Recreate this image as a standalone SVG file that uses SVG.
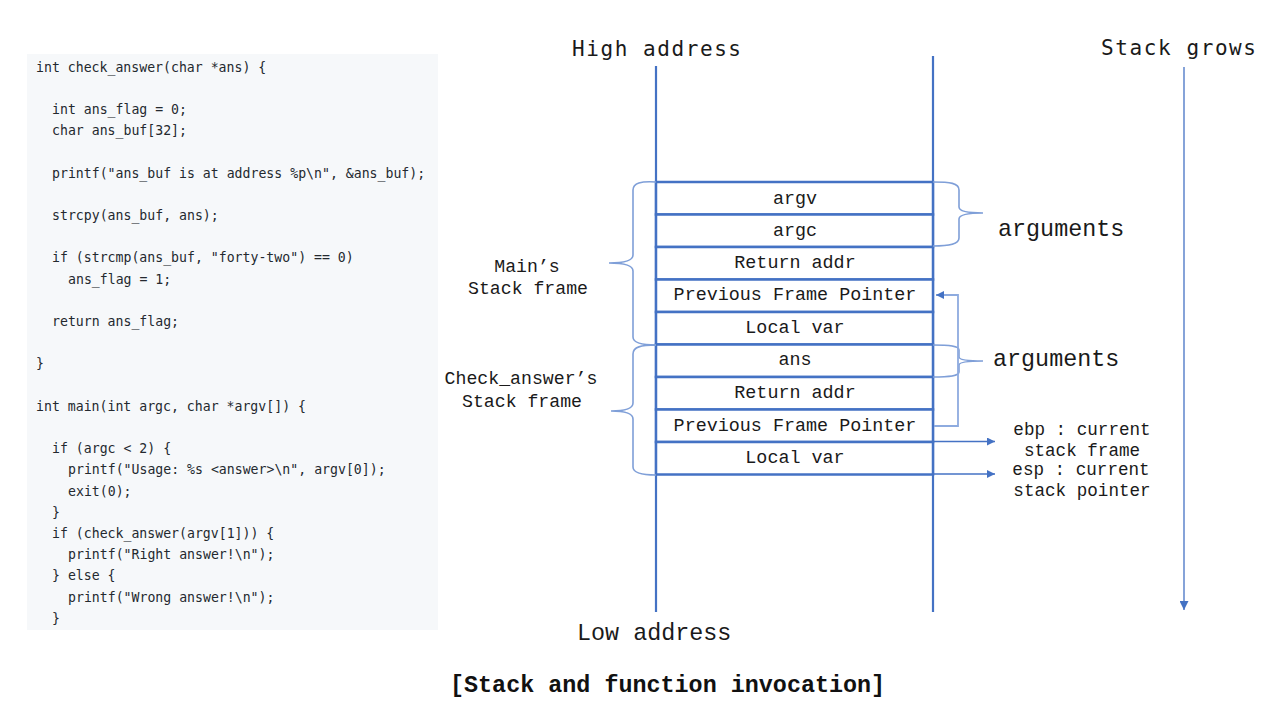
<svg xmlns="http://www.w3.org/2000/svg" width="1280" height="720" viewBox="0 0 1280 720">
  <defs>
    <style>
      .code { font-family: "DejaVu Sans Mono", "Liberation Mono", monospace; font-size: 13.2px; fill: #24292f; }
      .cell { fill: #ffffff; stroke: #4472c4; stroke-width: 2.5; }
      .cell-text { font-family: "Liberation Mono", "Courier New", monospace; font-size: 18.4px; fill: #1a1a1a; text-anchor: middle; }
      .label { font-family: "Liberation Mono", "Courier New", monospace; font-size: 18.2px; fill: #1a1a1a; text-anchor: middle; }
      .small { font-size: 17.6px; }
      .big { font-family: "Liberation Mono", "Courier New", monospace; font-size: 23.4px; fill: #1a1a1a; }
      .head { font-family: "DejaVu Sans Mono", monospace; font-size: 21px; fill: #1a1a1a; }
      .rail { stroke: #4472c4; stroke-width: 2.2; fill: none; }
      .brace { stroke: #7f9fd8; stroke-width: 1.6; fill: none; }
      .link { stroke: #8eabdf; stroke-width: 1.8; fill: none; }
      .ptr { stroke: #4472c4; stroke-width: 1.3; fill: none; }
    </style>
    <marker id="tri" viewBox="0 0 10 10" refX="10" refY="5" markerWidth="8" markerHeight="8" markerUnits="userSpaceOnUse" orient="auto">
      <path d="M0,0 L10,5 L0,10 z" fill="#4472c4"/>
    </marker>
    <marker id="tri-s" viewBox="0 0 10 10" refX="10" refY="5" markerWidth="9" markerHeight="9" markerUnits="userSpaceOnUse" orient="auto">
      <path d="M0,0 L10,5 L0,10 z" fill="#4472c4"/>
    </marker>
  </defs>

  <rect width="1280" height="720" fill="#ffffff"/>

  <!-- source listing -->
  <g id="code">
    <rect x="27" y="54" width="411" height="576" fill="#f6f8fa"/>
    <text class="code" x="36" y="71.5">int check_answer(char *ans) {</text>
    <text class="code" x="52" y="113.9">int ans_flag = 0;</text>
    <text class="code" x="52" y="135.1">char ans_buf[32];</text>
    <text class="code" x="52" y="177.5">printf("ans_buf is at address %p\n", &amp;ans_buf);</text>
    <text class="code" x="52" y="219.9">strcpy(ans_buf, ans);</text>
    <text class="code" x="52" y="262.3">if (strcmp(ans_buf, "forty-two") == 0)</text>
    <text class="code" x="68" y="283.5">ans_flag = 1;</text>
    <text class="code" x="52" y="325.9">return ans_flag;</text>
    <text class="code" x="36" y="368.3">}</text>
    <text class="code" x="36" y="410.7">int main(int argc, char *argv[]) {</text>
    <text class="code" x="52" y="453.1">if (argc &lt; 2) {</text>
    <text class="code" x="68" y="474.3">printf("Usage: %s &lt;answer&gt;\n", argv[0]);</text>
    <text class="code" x="68" y="495.5">exit(0);</text>
    <text class="code" x="52" y="516.7">}</text>
    <text class="code" x="52" y="537.9">if (check_answer(argv[1])) {</text>
    <text class="code" x="68" y="559.1">printf("Right answer!\n");</text>
    <text class="code" x="52" y="580.3">} else {</text>
    <text class="code" x="68" y="601.5">printf("Wrong answer!\n");</text>
    <text class="code" x="52" y="622.7">}</text>
  </g>

  <!-- address rails and headings -->
  <g id="rails">
    <line class="rail" x1="656" y1="66" x2="656" y2="612"/>
    <line class="rail" x1="933" y1="56" x2="933" y2="612"/>
    <text class="head" x="572" y="56" textLength="169" lengthAdjust="spacing">High address</text>
    <text class="big" x="577" y="640">Low address</text>
  </g>

  <!-- stack cells -->
  <g id="cell-argv"><rect class="cell" x="656" y="182" width="277" height="32.5"/><text class="cell-text" x="795" y="203.5">argv</text></g>
  <g id="cell-argc"><rect class="cell" x="656" y="214.5" width="277" height="32.5"/><text class="cell-text" x="795" y="235.5">argc</text></g>
  <g id="cell-main-ret"><rect class="cell" x="656" y="247" width="277" height="32.5"/><text class="cell-text" x="795" y="267.5">Return addr</text></g>
  <g id="cell-main-pfp"><rect class="cell" x="656" y="279.5" width="277" height="32.5"/><text class="cell-text" x="795" y="300">Previous Frame Pointer</text></g>
  <g id="cell-main-local"><rect class="cell" x="656" y="312" width="277" height="32.5"/><text class="cell-text" x="795" y="332.5">Local var</text></g>
  <g id="cell-ans"><rect class="cell" x="656" y="344.5" width="277" height="32.5"/><text class="cell-text" x="795" y="365">ans</text></g>
  <g id="cell-chk-ret"><rect class="cell" x="656" y="377" width="277" height="32.5"/><text class="cell-text" x="795" y="398">Return addr</text></g>
  <g id="cell-chk-pfp"><rect class="cell" x="656" y="409.5" width="277" height="32.5"/><text class="cell-text" x="795" y="430.5">Previous Frame Pointer</text></g>
  <g id="cell-chk-local"><rect class="cell" x="656" y="442" width="277" height="32.5"/><text class="cell-text" x="795" y="462.5">Local var</text></g>

  <!-- frame and argument braces -->
  <g id="main-frame">
    <path class="brace" d="M656,182 C641,181 633,183 633,190 L633,255 C633,261 624,263 609,263 C624,263 633,265 633,271 L633,337 C633,343 641,345 656,345"/>
    <text class="label" x="527" y="272">Main’s</text>
    <text class="label" x="528" y="294">Stack frame</text>
  </g>
  <g id="check-frame">
    <path class="brace" d="M656,345 C641,345 633,347 633,354 L633,403 C633,409 624,411 611,411 C624,411 633,413 633,419 L633,467 C633,473 641,475 656,475"/>
    <text class="label" x="521" y="384">Check_answer’s</text>
    <text class="label" x="522" y="407">Stack frame</text>
  </g>
  <g id="main-args">
    <path class="brace" d="M933,182 C950,182 959,183 959,190 L959,207 C959,211 967,213 983,213 C967,213 959,215 959,219 L959,238 C959,244 950,246 933,246"/>
    <text class="big" x="998" y="236">arguments</text>
  </g>
  <g id="check-args">
    <path class="brace" d="M933,345 C950,345 959,346 959,350 L959,357 C959,360 967,361 983,361 C967,361 959,362 959,365 L959,372 C959,376 950,377 933,377"/>
    <text class="big" x="993" y="366">arguments</text>
  </g>

  <!-- register notes -->
  <g id="ebp-note">
    <text class="label small" x="1082" y="435">ebp : current</text>
    <text class="label small" x="1082" y="456">stack frame</text>
  </g>
  <g id="esp-note">
    <text class="label small" x="1081" y="475">esp : current</text>
    <text class="label small" x="1082" y="496">stack pointer</text>
  </g>
  <g id="growth">
    <text class="head" x="1101" y="55" textLength="155" lengthAdjust="spacing">Stack grows</text>
  </g>

  <!-- connectors -->
  <g id="connectors">
    <path class="link" d="M934,426 L958,426 L958,295 L944,295"/>
    <line class="ptr" x1="943" y1="295" x2="936" y2="295" marker-end="url(#tri)"/>
    <line class="ptr" x1="934" y1="441.5" x2="995" y2="441.5" marker-end="url(#tri)"/>
    <line class="ptr" x1="934" y1="474" x2="995" y2="474" marker-end="url(#tri)"/>
    <line class="ptr" x1="1184" y1="67" x2="1184" y2="610" stroke-width="1.6" marker-end="url(#tri-s)"/>
  </g>

  <!-- caption -->
  <text x="450" y="692" font-family="'Liberation Mono', 'Courier New', monospace" font-size="23.4px" font-weight="bold" fill="#111111">[Stack and function invocation]</text>
</svg>
